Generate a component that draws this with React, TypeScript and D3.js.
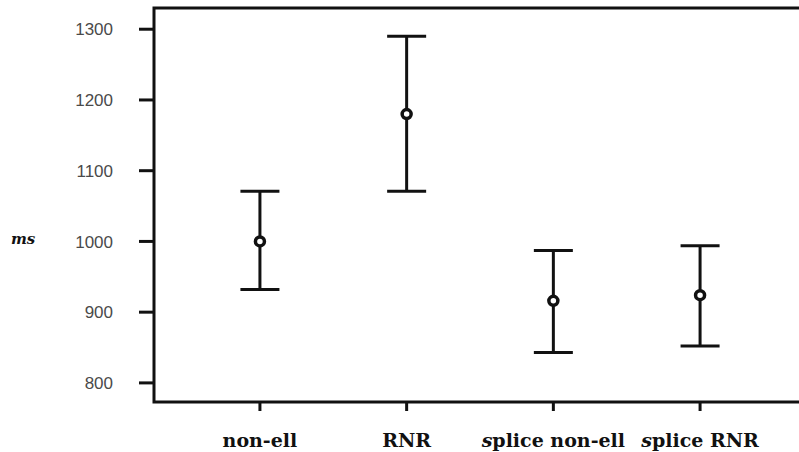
import React, { useRef, useEffect } from 'react';
import * as d3 from 'd3';

// group labels and mean / error bar limits (ms)
const categories = ['non-ell', 'RNR', 'splice non-ell', 'splice RNR'];
const means = [1000, 1180, 916, 924];
const upper = [1071, 1290, 987, 994];
const lower = [932, 1071, 843, 852];
const yTicks = [800, 900, 1000, 1100, 1200, 1300];

const W = 799;
const H = 452;

const App = () => {
  const svgRef = useRef<SVGSVGElement>(null);

  useEffect(() => {
    if (!svgRef.current) return;
    const svg = d3.select(svgRef.current);
    svg.selectAll('*').remove();

    const left = 154, top = 8, right = 806, bottom = 402;

    const x = d3.scalePoint<string>()
      .domain(categories)
      .range([left, right])
      .padding(0.722);

    const y = d3.scaleLinear()
      .domain([773, 1330])
      .range([bottom, top]);

    const data = categories.map((c, i) => ({ c, m: means[i], hi: upper[i], lo: lower[i] }));

    // frame
    svg.append('rect')
      .attr('x', left).attr('y', top)
      .attr('width', right - left).attr('height', bottom - top)
      .attr('fill', 'none').attr('stroke', '#111').attr('stroke-width', 3);

    // y axis ticks + labels
    const yg = svg.append('g');
    yg.selectAll('line').data(yTicks).enter().append('line')
      .attr('x1', left - 15).attr('x2', left)
      .attr('y1', d => y(d)).attr('y2', d => y(d))
      .attr('stroke', '#111').attr('stroke-width', 3);
    yg.selectAll('text').data(yTicks).enter().append('text')
      .attr('x', 113).attr('y', d => y(d))
      .attr('dy', '0.36em')
      .attr('text-anchor', 'end')
      .attr('font-family', 'Liberation Sans, Arial, sans-serif')
      .attr('font-size', 17)
      .attr('fill', '#4a4a4a')
      .text(d => d);

    // x axis ticks + labels
    const xg = svg.append('g');
    xg.selectAll('line').data(categories).enter().append('line')
      .attr('x1', d => x(d)!).attr('x2', d => x(d)!)
      .attr('y1', bottom).attr('y2', bottom + 9)
      .attr('stroke', '#111').attr('stroke-width', 3);
    const xt = xg.selectAll('text').data(categories).enter().append('text')
      .attr('x', d => x(d)!).attr('y', 447)
      .attr('text-anchor', 'middle')
      .attr('font-family', 'DejaVu Serif, serif')
      .attr('font-weight', 'bold')
      .attr('font-size', 19)
      .attr('fill', '#111');
    xt.each(function (d) {
      const t = d3.select(this);
      if (d.startsWith('splice')) {
        t.append('tspan').attr('font-style', 'italic').text('s');
        t.append('tspan').text(d.slice(1));
      } else {
        t.text(d);
      }
    });

    // y axis title
    svg.append('text')
      .attr('x', 11).attr('y', 244)
      .attr('font-family', 'DejaVu Serif, serif')
      .attr('font-weight', 'bold')
      .attr('font-style', 'italic')
      .attr('font-size', 15)
      .attr('fill', '#111')
      .text('ms');

    // error bars
    const g = svg.append('g').attr('stroke', '#111').attr('stroke-width', 3);
    const cap = 19.5;
    g.selectAll('.v').data(data).enter().append('line')
      .attr('x1', d => x(d.c)!).attr('x2', d => x(d.c)!)
      .attr('y1', d => y(d.hi)).attr('y2', d => y(d.lo));
    g.selectAll('.hi').data(data).enter().append('line')
      .attr('x1', d => x(d.c)! - cap).attr('x2', d => x(d.c)! + cap)
      .attr('y1', d => y(d.hi)).attr('y2', d => y(d.hi));
    g.selectAll('.lo').data(data).enter().append('line')
      .attr('x1', d => x(d.c)! - cap).attr('x2', d => x(d.c)! + cap)
      .attr('y1', d => y(d.lo)).attr('y2', d => y(d.lo));
    g.selectAll('circle').data(data).enter().append('circle')
      .attr('cx', d => x(d.c)!).attr('cy', d => y(d.m))
      .attr('r', 4.5)
      .attr('stroke-width', 3.5)
      .attr('fill', '#fff');
  }, []);

  return (
    <svg
      ref={svgRef}
      width={W}
      height={H}
      style={{ position: 'absolute', left: 0, top: 0, background: '#fff' }}
    />
  );
};

export default App;
